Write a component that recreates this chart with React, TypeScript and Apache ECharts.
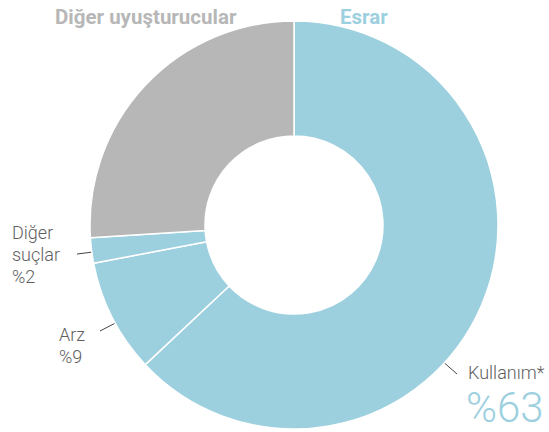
import React, { useEffect, useRef } from "react";
import * as echarts from "echarts";

const categories = ["Kullanım*", "Arz", "Diğer suçlar", "Diğer uyuşturucular"];
const values = [63, 9, 2, 26];
const colors = ["#9dd0df", "#9dd0df", "#9dd0df", "#b7b7b7"];

export default function App() {
  const ref = useRef<HTMLDivElement>(null);
  useEffect(() => {
    const chart = echarts.init(ref.current!, null, { renderer: "svg" });
    const font = "Roboto, 'Noto Sans', sans-serif";
    chart.setOption({
      animation: false,
      series: [
        {
          type: "pie",
          center: [294, 225],
          radius: [89, 204],
          startAngle: 90,
          clockwise: true,
          label: { show: false },
          labelLine: { show: false },
          itemStyle: { borderColor: "#fff", borderWidth: 1.5 },
          emphasis: { disabled: true },
          data: categories.map((c, i) => ({
            name: c,
            value: values[i],
            itemStyle: { color: colors[i] },
          })),
        },
      ],
      graphic: [
        { type: "text", left: 55, top: 6, style: { text: "Diğer uyuşturucular", fill: "#b7b7b7", font: `bold 20.5px ${font}` } },
        { type: "text", left: 340, top: 6, style: { text: "Esrar", fill: "#9dd0df", font: `bold 20.5px ${font}` } },
        { type: "text", left: 12, top: 221, style: { text: `Diğer\nsuçlar\n%${values[2]}`, fill: "#5e5e5e", font: `300 18px ${font}`, lineHeight: 22 } },
        { type: "line", shape: { x1: 77, y1: 254, x2: 109, y2: 250 }, style: { stroke: "#444", lineWidth: 1 } },
        { type: "text", left: 59, top: 323, style: { text: `Arz\n%${values[1]}`, fill: "#5e5e5e", font: `300 18px ${font}`, lineHeight: 22 } },
        { type: "line", shape: { x1: 100, y1: 331, x2: 129, y2: 316 }, style: { stroke: "#444", lineWidth: 1 } },
        { type: "text", left: 468, top: 363, style: { text: "Kullanım*", fill: "#5e5e5e", font: `300 18px ${font}` } },
        { type: "text", left: 466, top: 386, style: { text: `%${values[0]}`, fill: "#9dd0df", font: `300 42px ${font}` } },
        { type: "line", shape: { x1: 433, y1: 353, x2: 457, y2: 374 }, style: { stroke: "#444", lineWidth: 1 } },
      ],
    });
    return () => chart.dispose();
  }, []);
  return <div ref={ref} style={{ width: 549, height: 432, position: "absolute", left: 0, top: 0 }} />;
}
